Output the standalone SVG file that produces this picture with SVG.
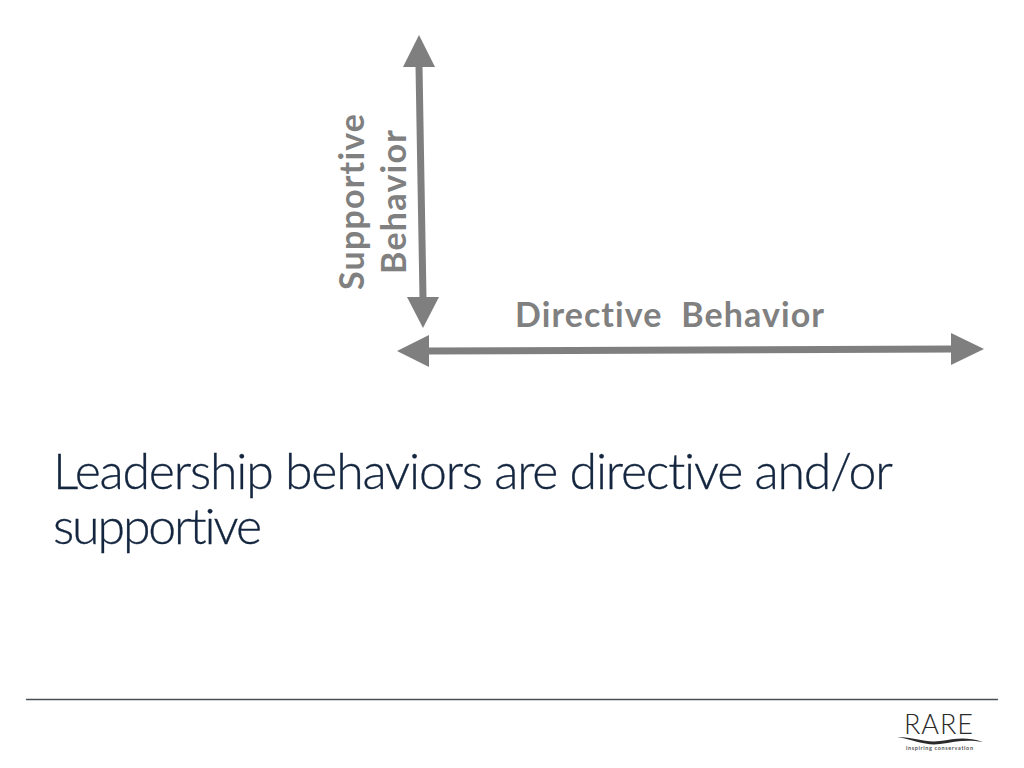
<svg xmlns="http://www.w3.org/2000/svg" width="1024" height="768" viewBox="0 0 1024 768">
<style>
text{font-variant-ligatures:none}
.ax{fill:none;stroke:#7f7f7f;stroke-width:7}
.hd{fill:#7f7f7f}
.lb{font-family:"Lato","Liberation Sans",sans-serif;font-weight:700;font-size:34px;fill:#808080}
.ti{font-family:"Lato","Liberation Sans",sans-serif;font-weight:300;font-size:50px;fill:#14263f;stroke:#14263f;stroke-width:.3}
</style>
<rect width="1024" height="768" fill="#fff"/>
<g id="connectors">
<line class="ax" x1="419" y1="66" x2="423" y2="298"/>
<polygon class="hd" points="419,35 435,67 403,67"/>
<polygon class="hd" points="423,328 439,297 407,297"/>
<line class="ax" x1="428" y1="351" x2="952" y2="349"/>
<polygon class="hd" points="397,351 429,335 429,367"/>
<polygon class="hd" points="984,349 951,333 951,365"/>
</g>
<g id="supportive-label"><text class="lb" transform="translate(364,290) rotate(-90)" textLength="176" lengthAdjust="spacing">Supportive</text></g>
<g id="behavior-label"><text class="lb" transform="translate(406,274) rotate(-90)" textLength="144" lengthAdjust="spacing">Behavior</text></g>
<g id="directive-label"><text class="lb" x="515" y="327" textLength="309" lengthAdjust="spacing" xml:space="preserve">Directive  Behavior</text></g>
<g id="title">
<text class="ti" x="53" y="488.500" textLength="840" lengthAdjust="spacing">Leadership behaviors are directive and/or</text>
<text class="ti" x="53" y="543.500" textLength="209" lengthAdjust="spacing">supportive</text>
</g>
<line id="rule" x1="26" y1="699.5" x2="998" y2="699.5" stroke="#4a4f55" stroke-width="1.5"/>
<g id="logo">
<text x="904" y="734" font-family="Lato,'Liberation Sans',sans-serif" font-size="27" font-weight="300" fill="#2a2a2a" textLength="69" lengthAdjust="spacing">RARE</text>
<path d="M897 737 C915 737 925 743 940 741 C955 739 965 736 983 742 C965 739 955 742 940 744 C925 746 915 740 897 737Z" fill="#2a2a2a"/>
<text x="906" y="750" font-family="Lato,'Liberation Sans',sans-serif" font-size="5.5" font-weight="700" fill="#555" textLength="67" lengthAdjust="spacing">inspiring conservation</text>
</g>
</svg>
